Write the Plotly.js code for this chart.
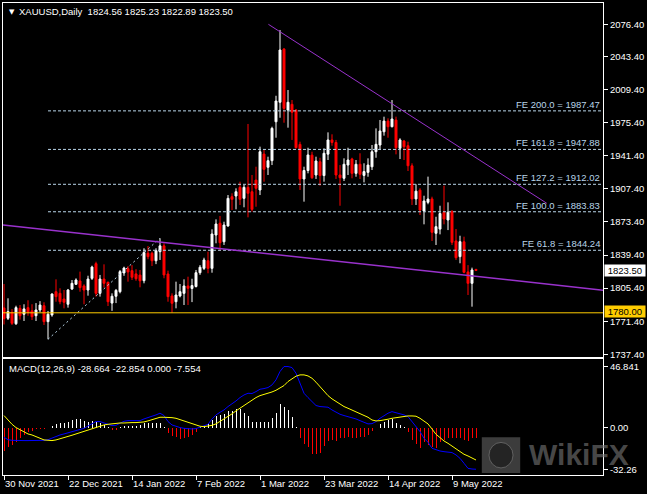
<!DOCTYPE html>
<html><head><meta charset="utf-8">
<script src="https://cdn.plot.ly/plotly-3.0.1.min.js"></script>
<style>html,body{margin:0;padding:0;background:#000;}#chart{width:647px;height:494px;}</style>
</head><body><div id="chart"></div>
<script>
const symbolTitle = 'XAUUSD,Daily';
const opens = [1785,1774.4,1780.5,1768.8,1784.6,1778.5,1785.3,1782,1777,1782.9,
1787.3,1770.9,1777.8,1801.7,1800,1794.2,1788.8,1804.5,1809.3,1812.7,
1807.6,1803.4,1815.4,1830.5,1800,1814.7,1811.4,1790,1797,1801.7,
1821,1825.4,1823.3,1820,1818.8,1813,1841.2,1841.2,1833.5,1842.8,
1848.8,1819.9,1797.3,1791.4,1797.3,1800,1807.6,1805,1807,1821.2,
1825.7,1833.5,1825.7,1859.9,1872,1853,1869.2,1899.3,1900,1908.9,
1897.6,1908.9,1904.4,1916.4,1906.2,1943.1,1929.5,1936.3,1976.3,1996.3,
2051,1988.3,1994.2,1988.3,1953,1917.5,1926.2,1942,1921.6,1935.2,
1921,1943,1957.6,1955,1921.6,1918.2,1931.8,1938,1923.3,1932.6,
1921.2,1924.3,1930,1945.5,1952.4,1966,1977,1971.2,1978,1949,
1956.5,1951.7,1931,1897,1906,1884.6,1893.5,1897,1861.7,1866,
1883.3,1875.4,1883.9,1853.8,1837.7,1853,1822,1810.3,1824.56];
const highs = [1809.6,1794.9,1783.9,1787.3,1788,1788.8,1792.9,1788.8,1790,1792,
1790.8,1781.9,1800,1814.4,1805.2,1803.4,1804.5,1813.7,1815.4,1822.3,
1809.3,1818.1,1828.4,1832.5,1818.9,1829.8,1812,1800,1804.5,1824,
1827.4,1828,1829,1824.8,1824,1846.3,1848.6,1842.8,1846.3,1856.6,
1851.4,1823.3,1800,1812,1809.6,1814.4,1817.1,1815,1824,1829,
1836.6,1842.8,1865.8,1876,1879.5,1873.6,1901,1902.8,1907.9,1914.7,
1911.3,1974,1921.6,1930.1,1950.7,1947.3,1940.4,1971.2,2003,2070.5,
2052,2008.9,1998.6,1989.3,1955.8,1930.1,1949.6,1945.5,1940.4,1939.3,
1949,1965.4,1963.4,1957.6,1931.8,1938.7,1949.6,1939.3,1937,1943.9,
1933.6,1938.7,1952.4,1969.5,1978.1,1981.5,1979.8,1998.6,1981.5,1959.3,
1957.6,1955.8,1933.6,1912,1908,1900.3,1919.9,1899.3,1878.7,1890,
1910.6,1893.5,1885.6,1866.1,1859.2,1858.2,1829,1826.4,1825.23];
const lows = [1768,1772.6,1767.5,1767.5,1773,1771.6,1777,1772.6,1771.6,1780.5,
1767.5,1752.8,1776,1791.4,1788.8,1784.6,1785.3,1803.4,1808.6,1801.7,
1788.8,1797.6,1813.7,1796.6,1796.6,1805.9,1787,1782,1790,1800,
1818,1812,1813.7,1812.9,1806.2,1810.3,1835,1828.1,1830,1834.3,
1815.5,1791.4,1780,1784.6,1795.9,1788,1788,1791,1806,1819,
1824,1820.6,1821.2,1851.4,1843.8,1849.7,1868.5,1885.6,1886.3,1890.8,
1888.4,1878.1,1883.9,1889,1901,1914.7,1921.6,1931.8,1959.9,1980.4,
1975.3,1970.2,1957.6,1948.9,1906.2,1894.2,1923.3,1917.5,1917.5,1910.6,
1914.7,1937,1951.7,1917.5,1890,1915.4,1921.6,1918.2,1919.8,1917.5,
1914,1919.8,1926.7,1939.3,1947.3,1962,1959.9,1970.5,1942.8,1938,
1937,1925.7,1890.8,1890.8,1880.5,1870.9,1891.5,1853.8,1849.7,1860.6,
1870.9,1865,1849.7,1834.3,1830.9,1820.6,1798.3,1786.3,1822.89];
const closes = [1774,1781.2,1769.2,1785.3,1777,1784,1780.5,1776,1782.9,1788,
1770.9,1778.5,1799.3,1796.6,1791.4,1790.8,1803.4,1810.3,1813.7,1805.9,
1803.4,1814.7,1827,1800,1814.7,1810.3,1791.4,1797,1803,1822.3,
1826,1822,1816.5,1815,1812.9,1842,1837.7,1833.5,1843.8,1848.8,
1818.9,1796.6,1789.8,1798.3,1801.7,1807.6,1805.2,1808,1821.2,1826.8,
1834.3,1825.7,1861,1871.2,1852,1870.2,1897.6,1896.6,1904.4,1896.6,
1908.9,1902.8,1886.3,1907.9,1945.5,1927.4,1936.3,1969.5,1997.6,2050,
1990,1996.3,1986,1949.6,1917.5,1926.2,1942.2,1918.8,1936,1921,
1943.9,1957.6,1955,1921.6,1918.8,1932.6,1937,1923.3,1932.6,1922.3,
1925.1,1931.8,1945.5,1953.1,1966.8,1977,1971.2,1979.1,1949.6,1957.6,
1950.6,1931.1,1897,1905,1885.6,1894.9,1896.9,1862.7,1868.5,1882,
1876.4,1883.3,1852.4,1836.6,1853.1,1821.6,1810.3,1824,1823.5];
const macdHist = [-17.7,-14.3,-13.1,-11,-7.9,-5.4,-3.3,-2.3,-1,-0.5,
-0.5,0.3,1.8,3.1,4.1,3.8,4.9,6.1,6.9,6.7,
5.4,4.9,5.6,4.9,3.6,2.3,0.5,-1.5,-1.5,0.5,
1.5,1.5,1.8,1.5,2.3,3.6,3.6,3.6,3.8,3.6,
1,-4.1,-6.1,-6.7,-8.4,-7.9,-6.7,-5.4,-2.8,1,
2.3,2.8,6.1,9.5,10,10.5,13.3,13.1,14.6,14.3,
11.3,9.2,4.9,4.6,4.9,4.9,4.9,7.9,11.3,18.2,
16.4,13.8,8.7,1,-7.9,-12.5,-14.3,-20.2,-20.2,-19.5,
-13.6,-10,-9.2,-10,-7.9,-7.4,-6.7,-7.4,-7.4,-6.7,
-6.7,-5.4,-2.3,0,2.8,4.9,6.1,6.9,4.1,2.3,
1,-2.8,-9.2,-12.5,-15.1,-10.5,-13.1,-14.3,-15.1,-11,
-9.2,-7.9,-7.4,-7.9,-7.4,-9.2,-10,-7.9,-7.554];
const macdMain = [-7.2,-9.0,-9.5,-9.7,-9.7,-9.7,-9.7,-9.7,-9.7,-9.7,
-9.5,-9.0,-7.7,-6.1,-5.4,-4.6,-3.8,-3.1,-2.3,-1.5,
-0.3,1.5,3.3,4.9,4.9,4.1,2.8,1.8,2.0,3.6,
5.1,5.6,5.6,5.6,5.6,6.9,8.2,9.0,10.0,11.3,
9.5,4.9,2.3,1.0,0.3,-0.3,-0.8,-0.8,-0.5,0.8,
1.5,2.8,6.9,10.0,12.0,13.8,16.4,18.4,20.7,23.3,
25.3,26.6,26.4,27.9,29.7,30.2,31.0,33.0,36.9,43.3,
47.1,47.1,46.3,42.0,33.5,26.6,23.3,20.2,17.2,16.4,
16.1,15.9,13.8,12.0,10.5,9.5,8.7,7.9,6.9,5.6,
4.1,3.1,3.3,4.9,7.4,9.5,11.3,12.5,11.8,10.8,
10.0,8.7,4.9,1.0,-2.8,-7.9,-11.0,-15.6,-16.9,-17.7,
-18.2,-18.4,-18.9,-20.7,-23.3,-27.1,-31.0,-31.5,-31.7];
const macdSignal = [9.5,6.1,2.8,0.3,-1.5,-3.3,-4.6,-5.4,-6.4,-7.9,
-9.2,-9.7,-9.7,-9.2,-8.4,-7.7,-6.7,-5.6,-4.6,-3.6,
-2.6,-1.3,-0.3,0.8,1.5,2.3,2.8,3.3,3.6,3.8,
3.8,4.1,4.1,4.1,4.1,4.6,5.4,6.4,7.4,8.2,
8.2,8.2,7.9,7.4,6.4,5.4,4.4,3.1,2.0,1.3,
1.0,1.3,2.0,3.1,4.9,6.7,8.7,10.8,13.1,15.1,
17.2,19.5,21.5,23.3,24.8,25.6,26.6,27.6,28.9,30.5,
32.5,35.6,37.6,39.7,40.7,40.7,39.9,38.1,35.1,31.7,
27.9,24.8,22.3,20.2,18.2,16.4,15.1,13.8,12.5,11.3,
9.7,8.2,6.1,5.4,5.6,5.9,6.7,7.4,7.9,8.4,
9.2,9.2,9.2,9.0,7.4,5.4,3.1,-0.8,-4.9,-7.4,
-10.0,-11.8,-13.8,-16.1,-18.2,-20.2,-21.5,-23.3,-24.6];
const dateTickBars = [0,16,32,48,64,80,96,112];
const dateTickLabels = ['30 Nov 2021','22 Dec 2021','14 Jan 2022','7 Feb 2022','1 Mar 2022','23 Mar 2022','14 Apr 2022','9 May 2022'];
const priceTicks = [2076.4,2043.4,2009.4,1975.4,1941.4,1907.4,1873.4,1839.4,1805.4,1771.4,1737.4];
const macdTicks = [46.841,0,-32.26];
const macdTickLabels = ['46.841','0.00','-32.26'];
const macdTitleValues = ['-28.664','-22.854','0.000','-7.554'];
const feRatios = ['61.8','100.0','127.2','161.8','200.0'];
const feLevels = [1844.24,1883.83,1912.02,1947.88,1987.47];
const feStartBar = 11;
const feLegBars = [11,39];
const feLegPrices = [1752.8,1856.6];
const upperTrendBars = [66.1,135.7];
const upperTrendPrices = [2076.4,1892.5];
const lowerTrendBars = [-0.25,149.75];
const lowerTrendPrices = [1870.3,1803.3];
const supportLevel = 1780;

const xRange = [-0.25,149.75];
const bars = opens.map((_, i) => i);
const FONT = 'Liberation Sans, Arial, sans-serif';
const n = closes.length;
const lastClose = closes[n-1];
const NB = '\u00a0';

const traces = [
  {type:'candlestick', x:bars, open:opens, high:highs, low:lows, close:closes,
   xaxis:'x', yaxis:'y', whiskerwidth:0,
   increasing:{line:{color:'#ffffff',width:1}, fillcolor:'#ffffff'},
   decreasing:{line:{color:'#ff0000',width:1}, fillcolor:'#ff0000'},
   hoverinfo:'skip', showlegend:false},
  {type:'bar', x:bars, y:macdHist, xaxis:'x2', yaxis:'y2', width:0.25,
   marker:{color:macdHist.map(v => v > 0 ? '#ffffff' : '#ff0000'), line:{width:0}},
   hoverinfo:'skip', showlegend:false},
  {type:'scatter', mode:'lines', x:bars, y:macdMain, xaxis:'x2', yaxis:'y2',
   line:{color:'#0000ff', width:1}, hoverinfo:'skip', showlegend:false},
  {type:'scatter', mode:'lines', x:bars, y:macdSignal, xaxis:'x2', yaxis:'y2',
   line:{color:'#ffff00', width:1}, hoverinfo:'skip', showlegend:false}
];

const feColor = '#b8d4e8';
const shapes = [];
feLevels.forEach(lv => shapes.push({type:'line', xref:'x', yref:'y', x0:feStartBar, x1:xRange[1], y0:lv, y1:lv,
  line:{color:feColor, width:1, dash:'3px,2px'}}));
shapes.push({type:'line', xref:'x', yref:'y', x0:feLegBars[0], x1:feLegBars[1], y0:feLegPrices[0], y1:feLegPrices[1],
  line:{color:feColor, width:1, dash:'2px,3px'}});
shapes.push({type:'line', xref:'x', yref:'y', x0:upperTrendBars[0], x1:upperTrendBars[1], y0:upperTrendPrices[0], y1:upperTrendPrices[1],
  line:{color:'#9932cc', width:1}});
shapes.push({type:'line', xref:'x', yref:'y', x0:lowerTrendBars[0], x1:lowerTrendBars[1], y0:lowerTrendPrices[0], y1:lowerTrendPrices[1],
  line:{color:'#9932cc', width:1.5}});
shapes.push({type:'line', xref:'paper', yref:'y', x0:0, x1:1, y0:supportLevel, y1:supportLevel,
  line:{color:'#ffcc00', width:1}});
// watermark icon
shapes.push({type:'rect', xref:'paper', yref:'paper', x0:0.798, x1:0.862, y0:0.004, y1:0.080,
  fillcolor:'rgba(110,110,110,0.55)', line:{width:0}, layer:'above'});
shapes.push({type:'circle', xref:'paper', yref:'paper', x0:0.810, x1:0.850, y0:0.015, y1:0.069,
  fillcolor:'rgba(20,20,20,0.6)', line:{color:'rgba(130,130,130,0.6)', width:1}, layer:'above'});

const annotations = [
  {xref:'paper', yref:'paper', x:0.0067, y:0.981, xanchor:'left', yanchor:'middle', showarrow:false,
   text:'\u25BC', font:{family:'DejaVu Sans', size:7, color:'#ffffff'}},
  {xref:'paper', yref:'paper', x:0.024, y:0.981, xanchor:'left', yanchor:'middle', showarrow:false,
   text: symbolTitle + NB + NB + [opens[n-1], highs[n-1], lows[n-1], closes[n-1]].map(v => v.toFixed(2)).join(' '),
   font:{family:FONT, size:9.5, color:'#ffffff'}},
  {xref:'paper', yref:'paper', x:0.0067, y:0.2256, xanchor:'left', yanchor:'middle', showarrow:false,
   text:'MACD(12,26,9) ' + macdTitleValues.join(' '),
   font:{family:FONT, size:9.5, color:'#ffffff'}},
  {xref:'paper', yref:'y', x:1.0, y:lastClose, xanchor:'left', yanchor:'middle', showarrow:false,
   text:NB + lastClose.toFixed(2) + NB, bgcolor:'#ffffff', borderpad:0, xshift:1,
   font:{family:FONT, size:9.5, color:'#000000'}},
  {xref:'paper', yref:'y', x:1.0, y:supportLevel, xanchor:'left', yanchor:'middle', showarrow:false,
   text:NB + supportLevel.toFixed(2) + NB, bgcolor:'#ffcc00', borderpad:0, xshift:1, yshift:1,
   font:{family:FONT, size:9.5, color:'#000000'}},
  {xref:'paper', yref:'paper', x:0.873, y:0.044, xanchor:'left', yanchor:'middle', showarrow:false,
   text:'<b>WikiFX</b>', font:{family:FONT, size:30, color:'rgba(120,120,120,0.6)'}}
];
feLevels.forEach((lv, i) => annotations.push({xref:'paper', yref:'y', x:0.997, y:lv, xanchor:'right', yanchor:'bottom',
  showarrow:false, text:'FE ' + feRatios[i] + ' = ' + lv.toFixed(2), borderpad:0, yshift:0,
  font:{family:FONT, size:9.5, color:feColor}}));

const axisCommon = {showgrid:false, zeroline:false, showline:true, linecolor:'#ffffff', linewidth:1, mirror:true};
const layout = {
  width:647, height:494, paper_bgcolor:'#000000', plot_bgcolor:'#000000',
  margin:{l:3, r:44, t:3, b:19}, showlegend:false, bargap:0,
  xaxis:Object.assign({}, axisCommon, {domain:[0,1], anchor:'y', range:xRange, showticklabels:false, ticks:'',
    rangeslider:{visible:false}, fixedrange:true}),
  yaxis:Object.assign({}, axisCommon, {domain:[0.25,1], anchor:'x', side:'right', range:[1734.6,2098.3],
    tickvals:priceTicks, ticktext:priceTicks.map(v => v.toFixed(2)), ticks:'outside', ticklen:4, tickcolor:'#ffffff',
    tickfont:{family:FONT, size:9.5, color:'#ffffff'}}),
  xaxis2:Object.assign({}, axisCommon, {domain:[0,1], anchor:'y2', range:xRange,
    tickvals:dateTickBars, ticktext:dateTickLabels, ticks:'outside', ticklen:4, tickcolor:'#ffffff',
    ticklabelposition:'outside right', tickfont:{family:FONT, size:9.5, color:'#ffffff'}}),
  yaxis2:Object.assign({}, axisCommon, {domain:[0,0.2458], anchor:'x2', side:'right', range:[-36.1,52.9],
    tickvals:macdTicks, ticktext:macdTickLabels, ticks:'outside', ticklen:4, tickcolor:'#ffffff',
    tickfont:{family:FONT, size:9.5, color:'#ffffff'}}),
  shapes:shapes, annotations:annotations
};
Plotly.newPlot('chart', traces, layout, {displayModeBar:false, staticPlot:true});
</script></body></html>
